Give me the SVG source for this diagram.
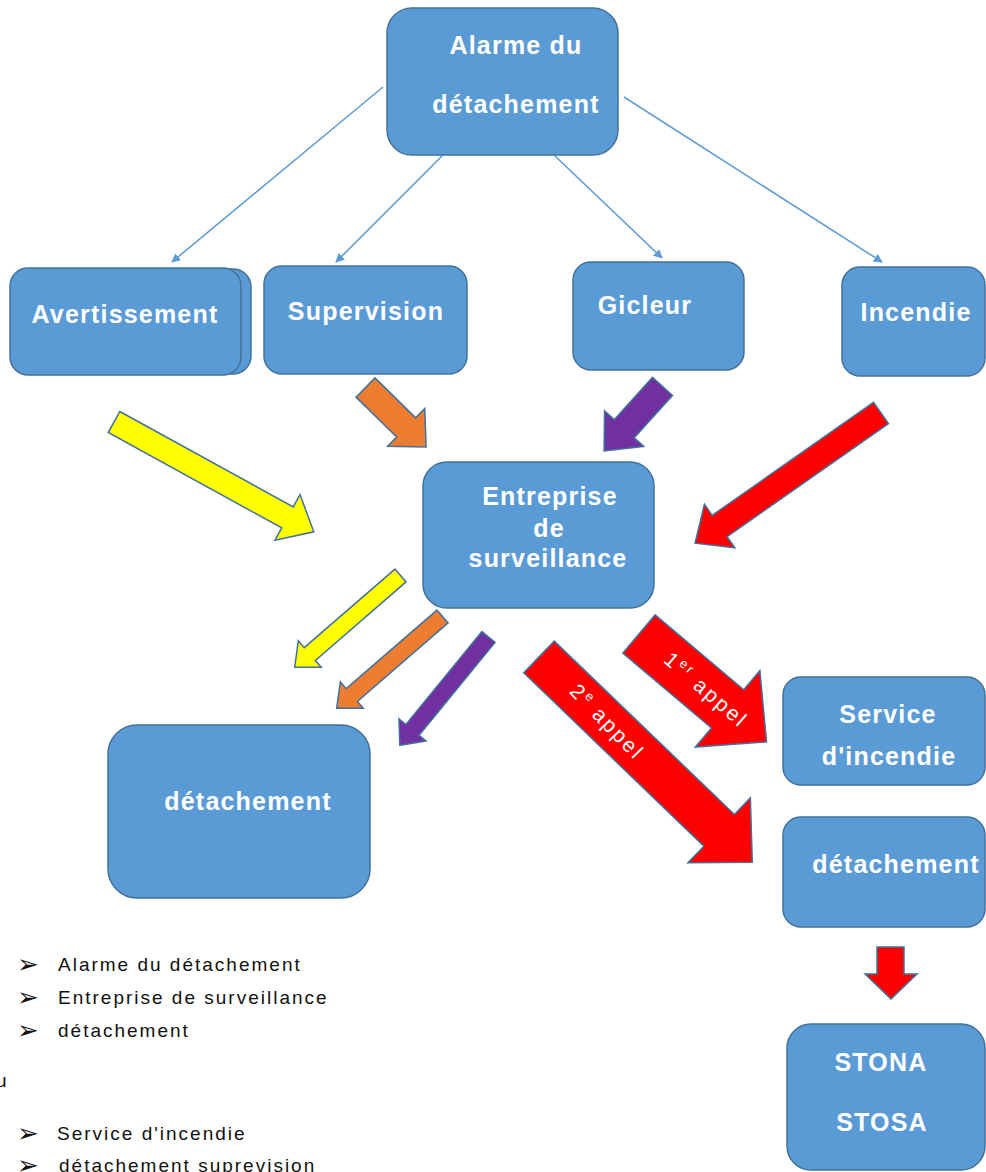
<svg xmlns="http://www.w3.org/2000/svg" width="986" height="1172" viewBox="0 0 986 1172">
<style>
.box{fill:#5B9BD5;stroke:#41719C;stroke-width:1.5}
.lbl{fill:#fff;font-family:"Liberation Sans",Arial,sans-serif;font-weight:bold;font-size:25px;letter-spacing:1.2px;text-anchor:middle}
.blk{stroke:#41719C;stroke-width:1.5;stroke-linejoin:miter}
.conn{stroke:#5B9BD5;stroke-width:1.5;fill:none}
.atxt{fill:#fff;font-family:"Liberation Sans",Arial,sans-serif;font-size:21px;letter-spacing:2.5px;text-anchor:middle}
.list{fill:#111;font-family:"Liberation Sans",Arial,sans-serif;font-size:19px;letter-spacing:2px}
.bul{fill:#111;font-family:"DejaVu Sans",sans-serif;font-size:26px}
</style>
<defs>
<marker id="ah" viewBox="0 0 10 10" refX="9" refY="5" markerWidth="9" markerHeight="9" markerUnits="userSpaceOnUse" orient="auto">
<path d="M0,0 L10,5 L0,10 z" fill="#5B9BD5"/>
</marker>
</defs>
<rect width="986" height="1172" fill="#fff"/>

<g id="connectors">
<line class="conn" x1="383" y1="87" x2="172" y2="262" marker-end="url(#ah)"/>
<line class="conn" x1="443" y1="155" x2="336" y2="262" marker-end="url(#ah)"/>
<line class="conn" x1="554" y1="155" x2="662" y2="258" marker-end="url(#ah)"/>
<line class="conn" x1="624" y1="97" x2="882" y2="262" marker-end="url(#ah)"/>

<polygon class="blk" fill="#FFFF00" transform="translate(114,422) rotate(28.8)" points="0,-12 198,-12 198,-26 228,0 198,26 198,12 0,12"/>
<polygon class="blk" fill="#ED7D31" transform="translate(365.5,387.5) rotate(44.5)" points="0,-13.5 57,-13.5 57,-26.5 85,0 57,26.5 57,13.5 0,13.5"/>
<polygon class="blk" fill="#7030A0" transform="translate(662.5,386.5) rotate(132.2)" points="0,-13.5 57,-13.5 57,-26.5 87,0 57,26.5 57,13.5 0,13.5"/>
<polygon class="blk" fill="#FF0000" transform="translate(881,413) rotate(145)" points="0,-13 197,-13 197,-26.5 227,0 197,26.5 197,13 0,13"/>
<polygon class="blk" fill="#FFFF00" transform="translate(400.5,575.5) rotate(139.1)" points="0,-8.5 120,-8.5 120,-17.5 140,0 120,17.5 120,8.5 0,8.5"/>
<polygon class="blk" fill="#ED7D31" transform="translate(442.5,616.5) rotate(139.1)" points="0,-8.5 120,-8.5 120,-17.5 140,0 120,17.5 120,8.5 0,8.5"/>
<polygon class="blk" fill="#7030A0" transform="translate(488.5,637) rotate(129.3)" points="0,-8.5 120,-8.5 120,-17.5 140,0 120,17.5 120,8.5 0,8.5"/>
<polygon class="blk" fill="#FF0000" transform="translate(639,634) rotate(40.2)" points="0,-25 116,-25 116,-50 167,0 116,50 116,25 0,25"/>
<polygon class="blk" fill="#FF0000" transform="translate(539,657) rotate(43.9)" points="0,-22 250,-22 250,-45 296,0 250,45 250,22 0,22"/>
<polygon class="blk" fill="#FF0000" points="877,947 904,947 904,974 917,974 891,999 865,974 877,974"/>

<text class="atxt" transform="translate(706,690) rotate(41)" y="7">1<tspan font-size="13" dy="-8">er</tspan><tspan dy="8"> appel</tspan></text>
<text class="atxt" transform="translate(607,722) rotate(46)" y="7">2<tspan font-size="13" dy="-8">e</tspan><tspan dy="8"> appel</tspan></text>
</g>

<g id="alarme">
<rect class="box" x="387" y="8" width="231" height="147" rx="25"/>
<text class="lbl" x="516" y="54">Alarme du</text>
<text class="lbl" x="516" y="113">détachement</text>
</g>

<g id="avertissement">
<rect class="box" x="20" y="269" width="231" height="105" rx="18"/>
<rect class="box" x="10" y="268" width="231" height="107" rx="18"/>
<text class="lbl" x="125" y="323">Avertissement</text>
</g>

<g id="supervision">
<rect class="box" x="264" y="266" width="203" height="108" rx="18"/>
<text class="lbl" x="366" y="320">Supervision</text>
</g>

<g id="gicleur">
<rect class="box" x="573" y="262" width="171" height="108" rx="18"/>
<text class="lbl" x="645" y="314">Gicleur</text>
</g>

<g id="incendie">
<rect class="box" x="842" y="267" width="143" height="109" rx="18"/>
<text class="lbl" x="916" y="321">Incendie</text>
</g>

<g id="entreprise">
<rect class="box" x="423" y="462" width="231" height="146" rx="24"/>
<text class="lbl" x="550" y="505">Entreprise</text>
<text class="lbl" x="549" y="537">de</text>
<text class="lbl" x="548" y="567">surveillance</text>
</g>

<g id="detachement-left">
<rect class="box" x="108" y="725" width="262" height="173" rx="29"/>
<text class="lbl" x="248" y="810">détachement</text>
</g>

<g id="service-incendie">
<rect class="box" x="783" y="677" width="202" height="108" rx="18"/>
<text class="lbl" x="888" y="723">Service</text>
<text class="lbl" x="889" y="765">d'incendie</text>
</g>

<g id="detachement-right">
<rect class="box" x="783" y="817" width="202" height="110" rx="18"/>
<text class="lbl" x="896" y="873">détachement</text>
</g>

<g id="stona-stosa">
<rect class="box" x="787" y="1024" width="198" height="146" rx="24"/>
<text class="lbl" x="881" y="1071">STONA</text>
<text class="lbl" x="882" y="1131">STOSA</text>
</g>

<g id="list">
<text class="bul" x="17" y="973">➢</text>
<text class="list" x="58" y="971">Alarme du détachement</text>
<text class="bul" x="17" y="1006">➢</text>
<text class="list" x="58" y="1004">Entreprise de surveillance</text>
<text class="bul" x="17" y="1039">➢</text>
<text class="list" x="58" y="1037">détachement</text>
<text class="list" x="-4" y="1087">u</text>
<text class="bul" x="17" y="1142">➢</text>
<text class="list" x="57" y="1140">Service d'incendie</text>
<text class="bul" x="17" y="1174">➢</text>
<text class="list" x="59" y="1172">détachement suprevision</text>
</g>
</svg>
